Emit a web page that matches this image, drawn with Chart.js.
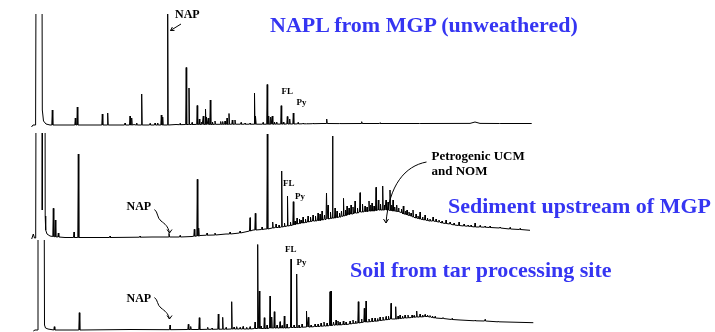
<!DOCTYPE html>
<html>
<head>
<meta charset="utf-8">
<script src="https://cdn.jsdelivr.net/npm/chart.js@4.4.1/dist/chart.umd.min.js"></script>
<style>
  body { margin: 0; background: #fff; }
  #wrap { position: relative; width: 715px; height: 332px; }
  #Chart { position: absolute; left: 0; top: 0; }
  #notes { position: absolute; left: 0; top: 0; }
  .title { font-family: "Liberation Serif", "Times New Roman", serif; font-weight: bold; font-size: 22px; fill: #3535f2; }
  .lab { font-family: "Liberation Serif", "Times New Roman", serif; font-weight: bold; fill: #000; }
</style>
</head>
<body>
<div id="wrap">
  <canvas id="Chart" width="715" height="332"></canvas>
  <svg id="notes" width="715" height="332">
    <text class="title" x="270" y="31.5">NAPL from MGP (unweathered)</text>
    <text class="title" x="448" y="213">Sediment upstream of MGP</text>
    <text class="title" x="350" y="277">Soil from tar processing site</text>

    <text class="lab" x="175" y="18" font-size="12">NAP</text>
    <text class="lab" x="281.5" y="94" font-size="9">FL</text>
    <text class="lab" x="296.5" y="105" font-size="9">Py</text>

    <text class="lab" x="126.5" y="210" font-size="12">NAP</text>
    <text class="lab" x="283" y="186" font-size="9">FL</text>
    <text class="lab" x="295" y="199" font-size="9">Py</text>
    <text class="lab" x="431.5" y="160" font-size="13">Petrogenic UCM</text>
    <text class="lab" x="431.5" y="175" font-size="13">and NOM</text>

    <text class="lab" x="126.5" y="301.5" font-size="12">NAP</text>
    <text class="lab" x="285" y="252.3" font-size="9">FL</text>
    <text class="lab" x="296.5" y="265" font-size="9">Py</text>

    <g fill="none" stroke="#000" stroke-width="1">
      <path d="M181,24 L170.5,30.5 M174.5,30.4 L170.5,30.5 L172.4,27"/>
      <path d="M154.5,209.5 C158,212 157,218 161,221 C165,224 168,226 169.5,233 M167,229.5 L169.5,233 L172,229.5"/>
      <path d="M154.5,297.5 C158,300 157,305 161,308 C165,311 168,313 169.5,319 M167,315.5 L169.5,319 L172,315.5"/>
      <path d="M426.5,162 C405,166 389,185 386,223 M383.5,219 L386,223 L388.5,219"/>
    </g>
  </svg>
</div>
<script>
// retention time (min) and detector response (arbitrary units above each trace's zero)

// NAPL from MGP (unweathered)
let napBase = [[0.15,-2],[0.3,0],[0.56,0],[0.66,350],[1.16,350],[1.23,15],[1.35,4],[1.6,1],[2.0,0],
  [10.4,0.4],[14.6,0.5],[20.9,0.8],[29.2,1.5],[36.5,1.5],[44,1.6],[44.5,3],[45,1.6],[50.17,1.5]];
let napPeaks = [[2.23,0,15],[4.53,0,7],[4.73,0,18],[7.23,0,11],[7.77,0,12],[9.5,0,2],[10.0,0,9],[10.17,0,7],
  [10.67,0,2],[11.17,0,31],[12.0,0,1.5],[12.5,0,2],[12.77,0,2],[13.13,0,10],[13.27,0,8],[13.77,0,111],
  [15.0,0.3,1.5],[15.62,0.5,57.5],[15.9,0.5,37],[16.2,0.5,2.5],[16.72,0.6,19.5],[16.93,0.6,6],[17.17,0.6,3],
  [17.33,0.6,9],[17.55,0.6,16],[17.67,0.6,8],[17.83,0.6,7],[18.03,0.6,25],[18.25,0.6,3],[18.5,0.7,4],
  [19.07,0.7,3.5],[19.27,0.7,3.5],[19.5,0.7,4],[19.7,0.7,7],[19.9,0.7,11.5],[20.23,0.8,5],[20.5,0.8,5],
  [21.1,0.8,2.5],[21.5,0.8,2],[22.0,0.8,2],[22.45,0.8,32],[22.57,0.8,9],[23.3,0.8,2.5],[23.72,0.8,40.5],
  [23.87,0.8,9],[24.07,0.8,8],[24.23,0.8,9],[24.45,0.9,3],[24.67,0.9,3],[25.12,0.9,19.3],[25.33,0.9,3],
  [25.73,1,8.5],[25.97,1,6],[26.33,1,12],[26.8,1.1,2.5],[27.3,1.2,2],[27.7,1.2,1.5],[28.3,1.3,2],
  [29.67,1.5,6],[31.0,1.4,2],[33.17,1.5,3.3],[35.0,1.5,2.2],[39.0,1.5,2],[47.0,1.5,2]];

// Sediment upstream of MGP
let sedBase = [[0.17,-1],[0.33,4],[0.45,0],[0.57,0],[0.65,400],[1.2,400],[1.23,28],[1.33,400],[1.48,400],
  [1.52,22],[1.57,8],[1.7,4],[2.0,2],[3.5,0.5],[7.4,0.5],[12.2,1],[16.2,1.5],[17.0,2.5],[19.6,4],
  [22.3,8],[23.5,9],[50.0,7.7]];
let sedPeaks = [[2.33,1.5,29.7],[2.53,1.2,18],[2.83,1,5],[4.4,0.5,6],[4.83,0.5,84],[8.0,0.5,2],[11.0,0.8,2],
  [13.9,1,4.7],[15.0,1,2.5],[16.43,1.8,8.7],[16.73,2,58.7],[16.87,2,10],[17.7,2.8,5],[18.5,3,5],[20.0,4,6],
  [21.0,5,7],[22.0,7,20.3],[22.53,8,24.7],[23.2,8.5,11],[23.73,9,104],[24.27,10,16],[24.6,10.5,14],
  [24.9,10.5,13],[25.17,11,67],[25.45,11.5,15],[25.75,12,42],[26.05,12.5,16],[26.33,13,36.3],[26.5,13.5,17],
  [26.7,14,20],[26.95,14.5,19],[27.1,15,18],[27.3,15,21],[27.55,15.5,19],[27.8,16,22],[28.05,16.5,21],
  [28.3,17,23],[28.55,17,22],[28.8,17.5,25],[29.0,17.5,24],[29.2,18,27],[29.45,18.5,23],[29.65,19,45],
  [29.8,19,33],[30.05,19.5,26],[30.25,20,102],[30.5,20,30],[30.7,20.5,27],[30.95,21,25],[31.15,21.5,27],
  [31.35,22,39.7],[31.55,22.5,28],[31.7,23,32],[31.9,23.5,30],[32.1,24,33],[32.3,24,31],[32.5,25,37],
  [32.75,25,30],[33.0,26,45.3],[33.25,26,34],[33.5,26.5,32],[33.7,26.5,31],[33.9,27,37],[34.05,27,33],
  [34.2,27,35],[34.4,27,32],[34.6,27.5,50.7],[34.83,28,38],[35.05,28,34],[35.27,28,52],[35.45,28,33],
  [35.6,28,38],[35.8,28,36],[36.0,27.5,48],[36.15,27.5,33],[36.3,27,38],[36.47,27,31],[36.67,26.5,33],
  [36.85,26.5,30],[37.15,25.5,29],[37.33,24,32],[37.55,24,27],[37.7,23,28],[37.9,22.5,26],[38.1,22,25],
  [38.3,21,28],[38.6,20,24],[38.8,19.5,22],[39.0,19,26],[39.25,18.5,21],[39.5,18,23],[39.75,17.5,20],
  [40.0,17,19],[40.3,17,21],[40.6,16.5,19],[40.9,16,18],[41.2,15,17],[41.6,14.5,18],[42.0,14,16],
  [42.4,13,15],[42.9,12.5,16],[43.4,12,14],[43.8,11.8,13],[44.1,11.5,13],[44.5,11,15],[45.0,11,12.5],
  [45.5,10.8,12],[46.0,10.5,12],[47.0,10,11],[48.0,9,10.5],[49.0,8.5,9.5]];

// Soil from tar processing site
let soilBase = [[0.33,-1],[0.5,0],[0.72,0],[0.8,300],[1.38,300],[1.45,5],[1.55,2],[1.8,1],[2.2,0.3],
  [10.0,0.5],[43.0,10],[50.33,7.3]];
let soilPeaks = [[2.43,0,3.3],[4.93,0,17.3],[14.0,0.3,5],[15.83,0.5,5.7],[16.07,0.5,3.5],[16.93,0.5,12.3],
  [17.77,0.7,2.7],[18.2,0.7,2],[18.83,0.8,16],[19.27,0.8,12.7],[19.6,0.8,2.5],[20.17,1,28.3],[20.4,1,3],
  [20.67,1,3.3],[21.0,1,2.5],[21.3,1,3.5],[21.67,1,2.7],[22.0,1,3.3],[22.5,1.5,8],[22.77,1.5,85.5],
  [22.93,1.5,39],[23.1,1.5,4],[23.43,1.5,12.3],[23.7,1.5,5],[24.0,2,34],[24.17,2,13],[24.43,2,18.3],
  [24.7,2,5],[25.0,2,8.3],[25.2,2,4.5],[25.43,2,14],[25.7,2,6],[26.1,2.5,71],[26.4,2.5,5],[26.67,2.5,56],
  [26.9,2.5,5],[27.2,2.8,6],[27.65,3,19],[27.83,3,12.7],[28.1,3,5],[28.5,3.5,6],[28.8,3.5,6],[29.1,3.8,7],
  [29.4,4,8],[29.7,4,7],[30.0,4.5,38.3],[30.1,4.5,39],[30.35,4.8,8],[30.6,5,10],[30.8,5,9],[31.0,5,8],
  [31.33,5.5,9],[31.6,5.5,8],[32.0,6,9],[32.3,6.5,10],[32.55,6.8,9],[32.83,7,28.3],[33.15,7.5,11],
  [33.43,8,21.7],[33.6,8,29],[33.9,8.2,11],[34.2,8.5,12],[34.5,8.8,12],[34.75,9,11.5],[35.0,9.5,13],
  [35.3,9.8,13],[35.6,10.2,13.5],[35.85,10.5,14],[36.1,11,26.7],[36.57,11,23.3],[36.8,11.2,14],
  [37.0,11.5,15],[37.25,11.8,14],[37.5,12,15],[37.8,12.2,15],[38.2,12.5,15],[38.4,12.8,14.5],
  [38.67,13,19],[39.0,13,16],[39.25,13.2,15],[39.5,13.5,15.5],[39.75,13.5,15],[40.0,13,14.5],
  [40.25,12.5,14],[40.5,12,13.5],[41.3,11.5,12.5],[42.2,10.5,11.5],[44.5,9.2,10],[45.5,9,10.5],[46.8,8.2,9]];

function buildTrace(base, peaks) {
  let pts = base.map(p => ({x: p[0], y: p[1]}));
  peaks.forEach(p => {
    pts.push({x: p[0] - 0.05, y: p[1]}, {x: p[0], y: p[2]}, {x: p[0] + 0.05, y: p[1]});
  });
  pts.sort((a, b) => a.x - b.x);
  return pts;
}

let graph = document.getElementById('Chart');

let traces = {
  datasets: [
    { data: buildTrace(napBase, napPeaks), yAxisID: 'y1', clip: {left: false, top: -14, right: false, bottom: false} },
    { data: buildTrace(sedBase, sedPeaks), yAxisID: 'y2', clip: {left: false, top: -133, right: false, bottom: false} },
    { data: buildTrace(soilBase, soilPeaks), yAxisID: 'y3', clip: {left: false, top: -240, right: false, bottom: false} }
  ]
};

let chartData = {
  type: 'line',
  data: traces,
  options: {
    responsive: false,
    animation: false,
    layout: { padding: 0 },
    elements: {
      point: { radius: 0 },
      line: { borderColor: '#000', borderWidth: 1, tension: 0 }
    },
    plugins: { legend: { display: false }, tooltip: { enabled: false } },
    scales: {
      x: { type: 'linear', min: -3, max: 68.5, display: false },
      y1: { min: -207, max: 125, display: false },
      y2: { min: -94, max: 238, display: false },
      y3: { min: -2, max: 330, display: false }
    }
  }
};

let presentdata = new Chart(graph, chartData);
</script>
</body>
</html>
